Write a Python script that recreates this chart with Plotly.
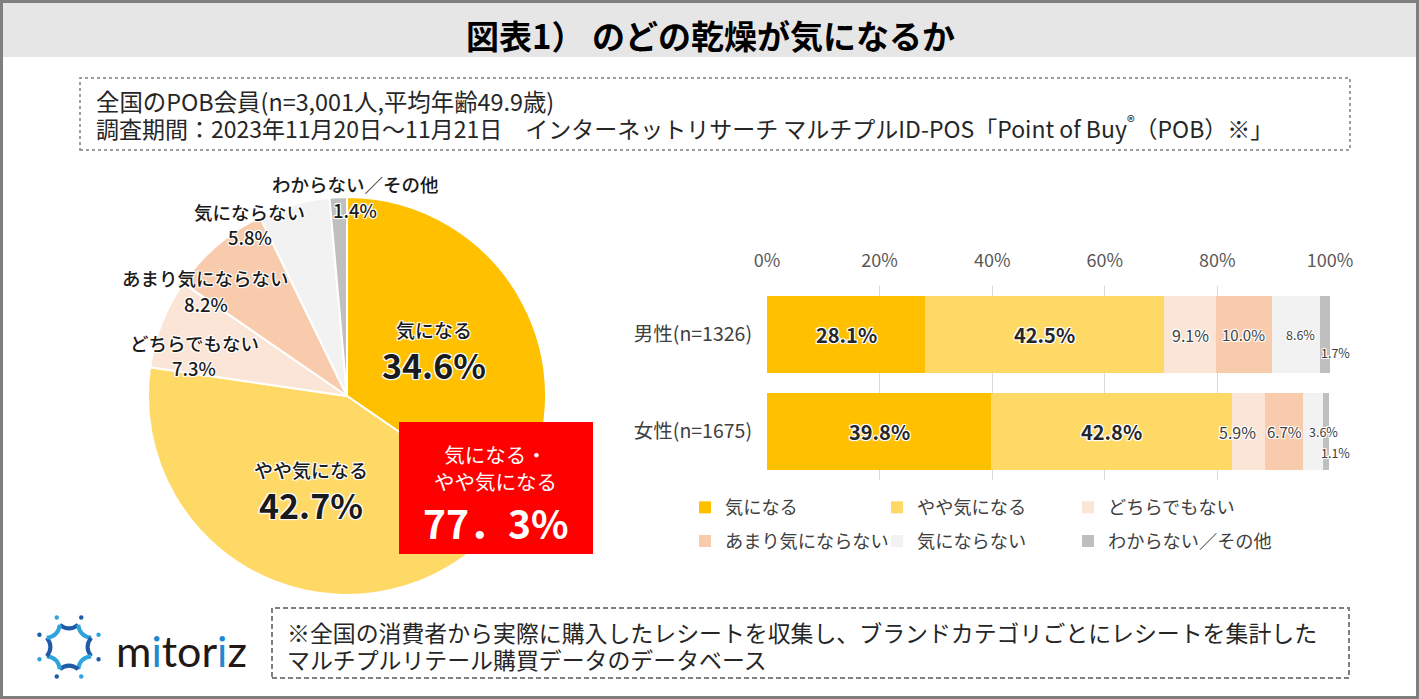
import math
import plotly.graph_objects as go

# ---------------- data ----------------
categories = ["気になる", "やや気になる", "どちらでもない", "あまり気にならない", "気にならない", "わからない／その他"]
pie_values = [34.6, 42.7, 7.3, 8.2, 5.8, 1.4]
groups = ["男性(n=1326)", "女性(n=1675)"]
male_values = [28.1, 42.5, 9.1, 10.0, 8.6, 1.7]
female_values = [39.8, 42.8, 5.9, 6.7, 3.6, 1.1]
x_tick_values = [0, 20, 40, 60, 80, 100]
x_tick_labels = ["0%", "20%", "40%", "60%", "80%", "100%"]

title_text = "図表1） のどの乾燥が気になるか"
info_lines = [
    "全国のPOB会員(n=3,001人,平均年齢49.9歳)",
    "調査期間：2023年11月20日～11月21日　インターネットリサーチ マルチプルID-POS「Point of Buy<sup>®</sup>（POB）※」",
]
footer_lines = [
    "※全国の消費者から実際に購入したレシートを収集し、ブランドカテゴリごとにレシートを集計した",
    "マルチプルリテール購買データのデータベース",
]
combined_label = ["気になる・", "やや気になる"]

# ---------------- styling ----------------
W, H = 1419, 699
colors = ["#FFC000", "#FFD966", "#FBE5D6", "#F8CBAD", "#F2F2F2", "#BFBFBF"]
JP = "Noto Sans CJK JP"
HALO = "1px 1px 0 #fff, -1px -1px 0 #fff, 1px -1px 0 #fff, -1px 1px 0 #fff, 0 0 3px #fff"


def px(x):
    return x / W


def py(y):
    return 1 - y / H


def note(x, y, text, font, xanchor="center", yanchor="middle"):
    return dict(x=px(x), y=py(y), xref="paper", yref="paper", text=text, showarrow=False,
                xanchor=xanchor, yanchor=yanchor, font=font)


fig = go.Figure()

# ---------------- pie ----------------
fig.add_trace(go.Pie(
    labels=categories, values=pie_values, sort=False, direction="clockwise", rotation=0,
    marker=dict(colors=colors, line=dict(color="white", width=2)),
    textinfo="none", hoverinfo="skip", showlegend=False,
    domain=dict(x=[px(148), px(546)], y=[py(595), py(197)]),
))

# ---------------- stacked bars ----------------
legend_ids = ["legend", "legend2", "legend3"]
for i, cat in enumerate(categories):
    fig.add_trace(go.Bar(
        y=groups, x=[male_values[i], female_values[i]], orientation="h",
        name=cat, marker=dict(color=colors[i], line=dict(width=0)),
        legend=legend_ids[i % 3], legendgroup=cat, hoverinfo="skip",
    ))

annotations = []
shapes = []

# bar labels
label_size = [20, 20, 16, 15, 12.5, 12.5]
label_bold = [True, True, False, False, False, False]
label_shift = {(0, 4): (4, 0), (0, 5): (10, -18), (1, 2): (-11, 0), (1, 4): (10, 0), (1, 5): (9, -21)}
for g, vals in enumerate([male_values, female_values]):
    cum = 0
    for i, v in enumerate(vals):
        xs, ys = label_shift.get((g, i), (0, 0))
        annotations.append(dict(
            x=cum + v / 2, y=groups[g], xref="x", yref="y", text=f"{v:.1f}%", showarrow=False,
            xanchor="center", yanchor="middle", xshift=xs, yshift=ys,
            font=dict(family=JP, size=label_size[i], color="#262626" if label_bold[i] else "#404040",
                      weight="bold" if label_bold[i] else "normal", shadow=HALO),
        ))
        cum += v

# pie labels (outside ones)
lab_font = dict(family=JP, size=18.5, color="#1a1a1a", weight=500, shadow=HALO)
pie_label_pos = {2: (194, 343, 368), 3: (206, 278, 304), 4: (250, 212, 237), 5: (355, 184, 210)}
for i, (cx, ly, vy) in pie_label_pos.items():
    annotations.append(note(cx, ly, categories[i], lab_font))
    annotations.append(note(cx, vy, f"{pie_values[i]:.1f}%", lab_font))
# pie labels (inside ones)
pie_in_pos = {0: (434, 329, 364), 1: (311, 469, 504)}
for i, (cx, ly, vy) in pie_in_pos.items():
    annotations.append(note(cx, ly, categories[i], dict(family=JP, size=19, color="#1a1a1a", weight=500,
                                                         shadow=HALO)))
    annotations.append(note(cx, vy, f"{pie_values[i]:.1f}%", dict(family=JP, size=34, color="#1a1a1a",
                                                                   weight="bold", shadow=HALO)))

# red combined box
shapes.append(dict(type="rect", xref="paper", yref="paper", x0=px(399), x1=px(593), y0=py(554), y1=py(422),
                   fillcolor="#FF0000", line=dict(width=0), layer="above"))
combined = pie_values[0] + pie_values[1]
annotations.append(note(495, 467.5, "<br>".join(combined_label), dict(family=JP, size=20.5, color="white")))
annotations.append(note(496, 522, f"{combined:.1f}%".replace(".", "．"),
                        dict(family=JP, size=39, color="white", weight="bold")))

# frame, title band, boxes
shapes.append(dict(type="rect", xref="paper", yref="paper", x0=px(3), x1=px(1416), y0=py(57), y1=py(3),
                   fillcolor="#E7E6E6", line=dict(width=0), layer="below"))
shapes.append(dict(type="rect", xref="paper", yref="paper", x0=px(1.5), x1=px(1417.5), y0=py(697.5), y1=py(1.5),
                   line=dict(color="#7F7F7F", width=3), layer="above"))
shapes.append(dict(type="rect", xref="paper", yref="paper", x0=px(80), x1=px(1350), y0=py(150), y1=py(78),
                   line=dict(color="#7F7F7F", width=1.5, dash="dot"), layer="above"))
shapes.append(dict(type="rect", xref="paper", yref="paper", x0=px(272), x1=px(1349), y0=py(678), y1=py(608),
                   line=dict(color="#7F7F7F", width=2, dash="5px,3px"), layer="above"))

annotations.append(note(710, 35, title_text, dict(family=JP, size=33, color="black", weight="bold")))
for line, yy, sz in zip(info_lines, [101, 127], [23.4, 23.0]):
    annotations.append(note(94, yy, line, dict(family=JP, size=sz, color="#262626"), xanchor="left"))
for line, yy in zip(footer_lines, [632, 659]):
    annotations.append(note(285, yy, line, dict(family=JP, size=22.9, color="#262626"), xanchor="left"))

# logo
lcx, lcy = 69, 647
dark, light = "#1F5AA6", "#2EA3DC"
for k in range(8):
    a0 = math.radians(-112.5 + 45 * k)
    a1 = math.radians(-112.5 + 45 * (k + 1))
    am = (a0 + a1) / 2
    x0, y0 = lcx + 24 * math.cos(a0), lcy + 24 * math.sin(a0)
    x1, y1 = lcx + 24 * math.cos(a1), lcy + 24 * math.sin(a1)
    qx, qy = lcx + 15 * math.cos(am), lcy + 15 * math.sin(am)
    path = f"M{px(x0)},{py(y0)} Q{px(qx)},{py(qy)} {px(x1)},{py(y1)}"
    shapes.append(dict(type="path", xref="paper", yref="paper", path=path,
                       line=dict(color=dark if k % 2 == 0 else light, width=4), layer="above"))
    dx, dy = lcx + 32 * math.cos(a0), lcy + 32 * math.sin(a0)
    shapes.append(dict(type="circle", xref="paper", yref="paper", x0=px(dx - 2.2), x1=px(dx + 2.2),
                       y0=py(dy + 2.2), y1=py(dy - 2.2), fillcolor=dark if k % 2 else light,
                       line=dict(width=0), layer="above"))
annotations.append(note(114, 650, "m<span style='color:#1E88D0'>i</span>tor<span style='color:#1E88D0'>i</span>z",
                        dict(family="Lato", size=43, color="#231815"), xanchor="left"))

# legends (three columns)
legend_common = dict(orientation="v", xanchor="left", yanchor="top", bgcolor="rgba(0,0,0,0)",
                     font=dict(family=JP, size=18.2, color="#404040"), tracegroupgap=7,
                     traceorder="grouped", itemclick=False, itemdoubleclick=False)

fig.update_layout(
    width=W, height=H, autosize=False,
    margin=dict(l=0, r=0, t=0, b=0, autoexpand=False),
    paper_bgcolor="white", plot_bgcolor="white",
    font=dict(family=JP),
    barmode="stack", bargap=0.2,
    xaxis=dict(domain=[px(767), px(1330)], range=[0, 100], side="top", tickvals=x_tick_values,
               ticktext=x_tick_labels, showgrid=True, gridcolor="#D9D9D9", gridwidth=1.3, zeroline=False,
               showline=False, ticks="", ticklabelstandoff=14, fixedrange=True, automargin=False,
               tickfont=dict(family=JP, size=18, color="#595959")),
    yaxis=dict(domain=[py(480), py(286)], autorange="reversed", showgrid=False, zeroline=False,
               showline=False, ticks="", ticklabelstandoff=14, fixedrange=True, automargin=False,
               tickfont=dict(family=JP, size=19.5, color="#404040")),
    legend=dict(x=px(685), y=py(489), **legend_common),
    legend2=dict(x=px(877), y=py(489), **legend_common),
    legend3=dict(x=px(1068), y=py(489), **legend_common),
    shapes=shapes,
    annotations=annotations,
)

fig.write_html("out.html", config=dict(displayModeBar=False),
               post_script="document.body.style.margin='0';")
